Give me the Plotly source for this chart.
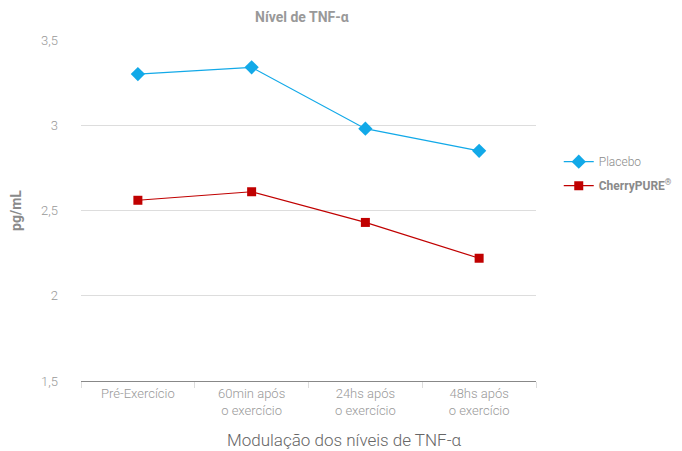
import plotly.graph_objects as go

categories = ["Pré-Exercício", "60min após<br>o exercício", "24hs após<br>o exercício", "48hs após<br>o exercício"]
placebo = [3.30, 3.34, 2.98, 2.85]
cherry = [2.56, 2.61, 2.43, 2.22]
y_ticks = [1.5, 2, 2.5, 3, 3.5]
y_labels = ["1,5", "2", "2,5", "3", "3,5"]

FONT = "Roboto, sans-serif"
GRAY = "#8a8a8a"

fig = go.Figure()
fig.add_trace(go.Scatter(
    x=categories, y=placebo, name="Placebo", mode="lines+markers", legendgroup="a",
    line=dict(color="#12A9E8", width=1.2),
    marker=dict(symbol="diamond", size=11, color="#12A9E8"),
))
fig.add_trace(go.Scatter(
    x=categories, y=cherry, name="<b>CherryPURE<sup>®</sup></b>", mode="lines+markers", legendgroup="b",
    line=dict(color="#C00000", width=1.2),
    marker=dict(symbol="square", size=9, color="#C00000"),
))

# page body has an 8px margin, so the figure is a bit smaller than the window
fig.update_layout(
    width=674, height=443,
    margin=dict(l=73, r=146, t=32, b=70, autoexpand=False),
    paper_bgcolor="white", plot_bgcolor="white",
    font=dict(family=FONT, color=GRAY, size=13, weight=300),
    title=dict(text="<b>Nível de TNF-α</b>", x=0.436, xanchor="center", y=0.99, yanchor="top",
               font=dict(size=14, color="#999999", family=FONT)),
    legend=dict(x=1.05, y=0.608, xanchor="left", yanchor="middle",
                traceorder="grouped", tracegroupgap=5,
                font=dict(size=12, color=GRAY, family=FONT), bgcolor="rgba(0,0,0,0)"),
    showlegend=True,
)
fig.add_annotation(
    text="Modulação dos níveis de TNF-α", xref="paper", yref="paper",
    x=0.58, y=-0.173, xanchor="center", yanchor="middle", showarrow=False,
    font=dict(size=17, color="#666666", weight=300),
)
fig.update_xaxes(
    automargin=False, range=[-0.5, 3.5],
    showline=True, linecolor="#888888", linewidth=1,
    ticks="outside", tickson="boundaries", ticklen=6, tickcolor="#dddddd",
    showgrid=False,
    tickfont=dict(size=13, color="#999999", weight=300),
)
fig.update_yaxes(
    automargin=False,
    range=[1.5, 3.5], tickvals=y_ticks, ticktext=y_labels,
    showgrid=True, gridcolor="#dddddd", gridwidth=1, zeroline=False,
    ticks="", ticklabelstandoff=22,
    tickfont=dict(size=13, color="#999999", weight=300),
    title=dict(text="<b>pg/mL</b>", font=dict(size=14, color=GRAY), standoff=23),
)

fig.write_html("out.html")
